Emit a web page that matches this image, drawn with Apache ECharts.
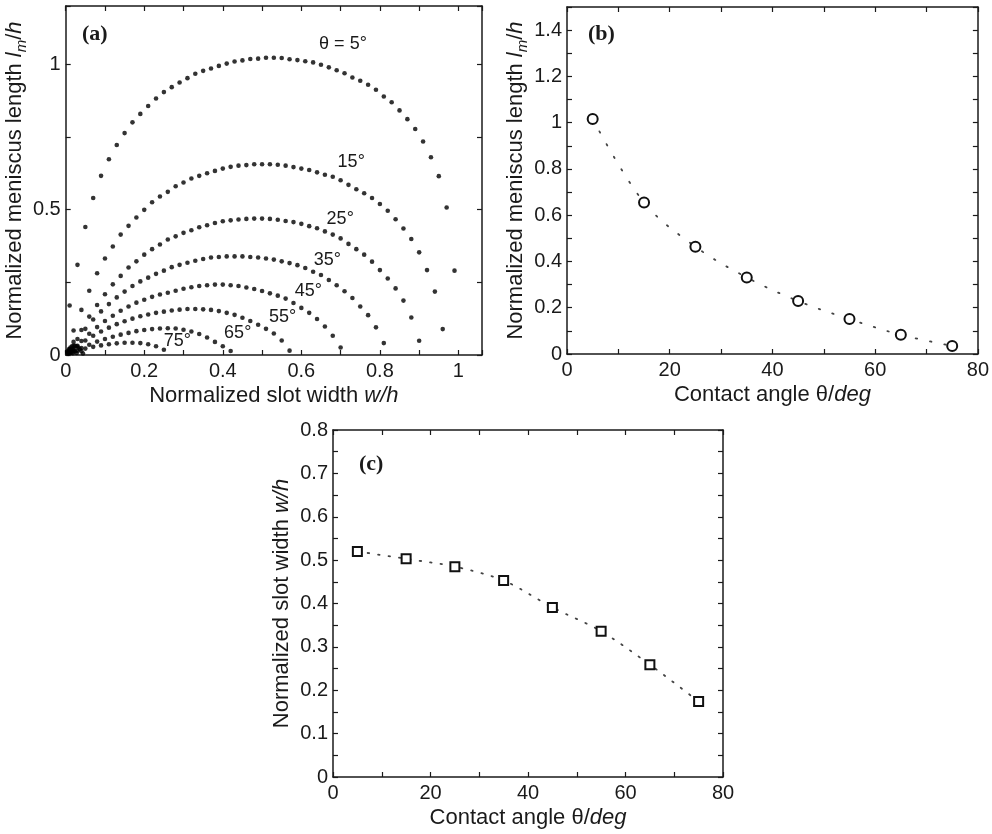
<!DOCTYPE html>
<html>
<head>
<meta charset="utf-8">
<script src="https://cdn.jsdelivr.net/npm/echarts@6/dist/echarts.min.js"></script>
<style>
  html, body { margin: 0; background: #fff; }
  #chart { width: 992px; height: 834px; }
</style>
</head>
<body>
<div id="chart"></div>
<script>
// sampled slot widths w/h used by the meniscus curves in (a)
const wOdd = [0.01,0.03,0.05,0.07,0.09,0.11,0.13,0.15,0.17,0.19,0.21,0.23,0.25,0.27,0.29,0.31,0.33,0.35,0.37,0.39,
  0.41,0.43,0.45,0.47,0.49,0.51,0.53,0.55,0.57,0.59,0.61,0.63,0.65,0.67,0.69,0.71,0.73,0.75,0.77,0.79,
  0.81,0.83,0.85,0.87,0.89,0.91,0.93,0.95,0.97,0.99];
const wEven = [0.02,0.04,0.06,0.08,0.10,0.12,0.14,0.16,0.18,0.20,0.22,0.24,0.26,0.28,0.30,0.32,0.34,0.36,0.38,0.40,
  0.42,0.44,0.46,0.48,0.50,0.52,0.54,0.56,0.58,0.60,0.62,0.64,0.66,0.68,0.70,0.72,0.74,0.76,0.78,0.80,
  0.82,0.84,0.86,0.88,0.90,0.92,0.94,0.96];

// normalized meniscus length l_m/h for each contact angle
const lm5 = [0.17,0.31,0.44,0.54,0.616,0.673,0.722,0.763,0.80,0.829,
  0.856,0.882,0.904,0.921,0.937,0.952,0.967,0.977,0.985,0.994,
  1.002,1.009,1.013,1.018,1.019,1.022,1.022,1.021,1.017,1.014,
  1.010,1.006,0.998,0.989,0.979,0.969,0.954,0.943,0.929,0.912,
  0.889,0.869,0.841,0.811,0.777,0.734,0.680,0.615,0.507,0.29];
const lm15 = [0.084,0.155,0.221,0.281,0.332,0.373,0.414,0.444,0.473,0.499,
  0.525,0.545,0.561,0.58,0.593,0.607,0.616,0.625,0.633,0.641,
  0.647,0.651,0.653,0.656,0.656,0.656,0.654,0.651,0.646,0.641,
  0.636,0.628,0.62,0.613,0.601,0.585,0.570,0.556,0.540,0.519,
  0.496,0.467,0.435,0.399,0.353,0.292,0.218,0.089];
const lm25 = [0.045,0.086,0.132,0.172,0.209,0.243,0.272,0.301,0.322,0.345,
  0.364,0.38,0.397,0.408,0.42,0.429,0.439,0.446,0.454,0.46,
  0.463,0.466,0.468,0.469,0.469,0.468,0.465,0.461,0.457,0.451,
  0.443,0.436,0.425,0.414,0.401,0.382,0.364,0.345,0.321,0.292,
  0.263,0.229,0.187,0.129,0.049];
const lm35 = [0.02,0.055,0.09,0.122,0.15,0.175,0.198,0.218,0.237,0.253,
  0.266,0.279,0.29,0.302,0.31,0.317,0.324,0.33,0.335,0.337,
  0.339,0.339,0.339,0.337,0.335,0.332,0.328,0.322,0.316,0.309,
  0.299,0.286,0.275,0.258,0.240,0.219,0.196,0.167,0.137,0.095,
  0.041];
const lm45 = [0.022,0.048,0.073,0.096,0.117,0.135,0.152,0.167,0.18,0.19,
  0.2,0.208,0.214,0.221,0.228,0.233,0.237,0.24,0.242,0.242,
  0.240,0.237,0.232,0.227,0.22,0.212,0.204,0.194,0.179,0.162,
  0.145,0.124,0.098,0.066,0.026];
const lm55 = [0.012,0.032,0.05,0.066,0.081,0.094,0.106,0.116,0.125,0.133,
  0.139,0.145,0.149,0.153,0.156,0.158,0.158,0.157,0.155,0.151,
  0.145,0.138,0.128,0.117,0.104,0.09,0.074,0.05,0.015];
const lm65 = [0.012,0.024,0.035,0.046,0.055,0.063,0.07,0.076,0.082,0.086,
  0.089,0.091,0.092,0.091,0.087,0.081,0.072,0.06,0.045,0.03,
  0.014];
const lm75 = [0.008,0.015,0.022,0.028,0.033,0.037,0.04,0.042,0.042,0.041,0.037,0.03,0.018];

// the dense knot of points at the origin
const knotW = [0.004,0.008,0.012,0.016,0.02,0.024,0.028,0.032,0.036,0.04,0.044,
  0.004,0.008,0.012,0.016,0.02,0.024,0.028,0.006,0.01,0.014,0.018];
const knotL = [0.012,0.02,0.026,0.03,0.032,0.032,0.03,0.026,0.02,0.013,0.005,
  0.008,0.013,0.017,0.018,0.017,0.013,0.007,0.004,0.007,0.008,0.006];

const curveTags = ['θ = 5°', '15°', '25°', '35°', '45°', '55°', '65°', '75°'];
const tagW = [0.706, 0.727, 0.699, 0.666, 0.618, 0.552, 0.438, 0.284];
const tagL = [1.069, 0.662, 0.469, 0.328, 0.221, 0.131, 0.076, 0.048];

// (b) and (c): values at each contact angle
const theta = [5, 15, 25, 35, 45, 55, 65, 75];
const lmMax = [1.016, 0.655, 0.464, 0.331, 0.229, 0.151, 0.083, 0.035];
const wAtMax = [0.52, 0.503, 0.485, 0.453, 0.391, 0.336, 0.259, 0.174];

const FONT = '"Liberation Sans", Arial, sans-serif';
const INK = '#1a1a1a';

const pick = (xs, ys) => ys.map((y, i) => [xs[i], y]);

const labelAt = (step) => (v) => {
  const k = v / step;
  return Math.abs(k - Math.round(k)) < 1e-6 ? String(+v.toFixed(2)) : '';
};

const nameStyle = {
  fontSize: 22, fontFamily: FONT, color: INK, lineHeight: 28,
  rich: {
    i: { fontSize: 22, fontFamily: FONT, color: INK, fontStyle: 'italic', lineHeight: 28 },
    n: { fontSize: 22, fontFamily: FONT, color: INK, lineHeight: 28 },
    s: { fontSize: 15, fontFamily: FONT, color: INK, fontStyle: 'italic', verticalAlign: 'bottom', lineHeight: 28 },
  },
};

const tick = { show: true, inside: true, length: 5, lineStyle: { color: INK, width: 1.2 } };
const line = { show: true, onZero: false, lineStyle: { color: INK, width: 1.5 } };

function xPair(grid, min, max, interval, labelStep, name, gap) {
  return [
    {
      type: 'value', gridIndex: grid, position: 'bottom', min, max, interval,
      axisLine: line, axisTick: tick, splitLine: { show: false },
      axisLabel: { margin: 6, fontSize: 20, fontFamily: FONT, color: INK,
        formatter: labelAt(labelStep), showMaxLabel: true, hideOverlap: false },
      name, nameLocation: 'middle', nameGap: gap, nameTextStyle: nameStyle,
    },
    {
      type: 'value', gridIndex: grid, position: 'top', min, max, interval,
      axisLine: line, axisTick: tick, splitLine: { show: false }, axisLabel: { show: false },
    },
  ];
}

function yPair(grid, min, max, interval, labelStep, name, gap) {
  return [
    {
      type: 'value', gridIndex: grid, position: 'left', min, max, interval,
      axisLine: line, axisTick: tick, splitLine: { show: false },
      axisLabel: { margin: 5, fontSize: 20, fontFamily: FONT, color: INK,
        formatter: labelAt(labelStep), hideOverlap: false },
      name, nameLocation: 'middle', nameGap: gap, nameTextStyle: nameStyle,
    },
    {
      type: 'value', gridIndex: grid, position: 'right', min, max, interval,
      axisLine: line, axisTick: tick, splitLine: { show: false }, axisLabel: { show: false },
    },
  ];
}

const dots = (data) => ({
  type: 'scatter', xAxisIndex: 0, yAxisIndex: 0, data,
  symbol: 'circle', symbolSize: 4.6, itemStyle: { color: '#000' }, silent: true,
});

const chart = echarts.init(document.getElementById('chart'), null, { renderer: 'canvas' });

const option = {
  animation: false,
  backgroundColor: '#fff',
  grid: [
    { left: 63, top: 6, width: 419, height: 349 },
    { left: 567, top: 7, width: 415, height: 347 },
    { left: 333, top: 430, width: 390, height: 347 },
  ],
  xAxis: [
    ...xPair(0, 0, 1.06, 0.1, 0.2, 'Normalized slot width {i|w/h}', 20),
    ...xPair(1, 0, 80, 10, 20, 'Contact angle θ/{i|deg}', 15),
    ...xPair(2, 0, 80, 10, 20, 'Contact angle θ/{i|deg}', 20),
  ],
  yAxis: [
    ...yPair(0, 0, 1.2, 0.25, 0.5, 'Normalized meniscus length {i|l}{s|m}{n|/}{i|h}', 22),
    ...yPair(1, 0, 1.5, 0.1, 0.2, 'Normalized meniscus length {i|l}{s|m}{n|/}{i|h}', 36),
    ...yPair(2, 0, 0.8, 0.05, 0.1, 'Normalized slot width {i|w/h}', 37),
  ],
  series: [
    dots(pick(wOdd, lm5)),
    dots(pick(wEven, lm15)),
    dots(pick(wEven, lm25)),
    dots(pick(wOdd, lm35)),
    dots(pick(wEven, lm45)),
    dots(pick(wOdd, lm55)),
    dots(pick(wEven, lm65)),
    dots(pick(wOdd, lm75)),
    dots(pick(knotW, knotL)),
    {
      type: 'line', xAxisIndex: 2, yAxisIndex: 2, smooth: 0.35,
      data: pick(theta, lmMax),
      symbol: 'emptyCircle', symbolSize: 10,
      itemStyle: { color: '#111', borderWidth: 2 },
      lineStyle: { color: '#444', width: 1.8, type: [1.5, 13], cap: 'round' },
    },
    {
      type: 'line', xAxisIndex: 4, yAxisIndex: 4, smooth: 0.3,
      data: pick(theta, wAtMax),
      symbol: 'emptyRect', symbolSize: 9,
      itemStyle: { color: '#111', borderWidth: 2 },
      lineStyle: { color: '#444', width: 1.8, type: [1.5, 9], cap: 'round' },
    },
  ],
};

chart.setOption(option);

const panelTag = (text, x, y) => ({
  type: 'text', x, y,
  style: { text, fontSize: 22, fontWeight: 'bold', fontFamily: '"Liberation Serif", "Times New Roman", serif',
    fill: INK, align: 'left', verticalAlign: 'middle' },
});

const curveText = curveTags.map((t, i) => {
  const p = chart.convertToPixel({ xAxisIndex: 0, yAxisIndex: 0 }, [tagW[i], tagL[i]]);
  return {
    type: 'text', x: p[0], y: p[1],
    style: { text: t, fontSize: 18, fontFamily: FONT, fill: INK, align: 'center', verticalAlign: 'middle' },
  };
});

chart.setOption({
  graphic: [
    panelTag('(a)', 82, 34),
    panelTag('(b)', 588, 34),
    panelTag('(c)', 359, 464),
    ...curveText,
  ],
});
</script>
</body>
</html>
